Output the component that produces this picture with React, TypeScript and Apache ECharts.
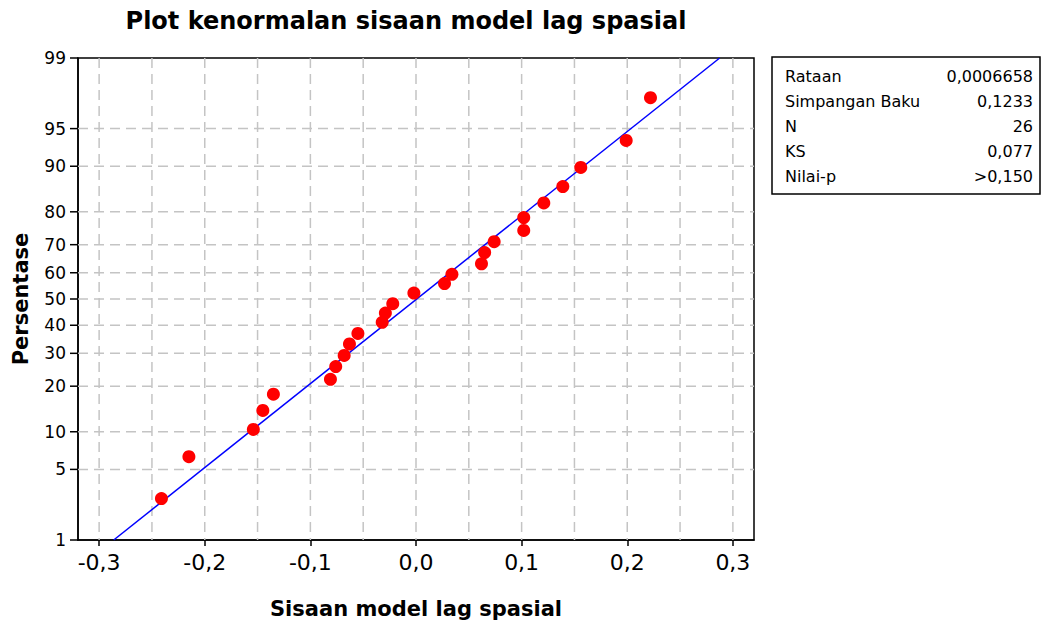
import React, { useEffect, useRef } from "react";
import * as echarts from "echarts";

// ---- data ----
const residuals = [
  -0.241, -0.215, -0.154, -0.145, -0.135, -0.081, -0.076, -0.068, -0.063, -0.055,
  -0.032, -0.029, -0.022, -0.002, 0.027, 0.034, 0.062, 0.065, 0.074, 0.102,
  0.102, 0.121, 0.139, 0.156, 0.199, 0.222,
];
const percents = [
  2.7, 6.4, 10.4, 14.1, 17.9, 21.9, 25.7, 29.3, 33.2, 37.0,
  41.1, 44.6, 48.2, 52.3, 55.9, 59.4, 63.3, 67.3, 71.0, 74.6,
  78.4, 82.3, 86.1, 89.8, 93.7, 97.4,
];
const percentTicks = [1, 5, 10, 20, 30, 40, 50, 60, 70, 80, 90, 95, 99];
const xTicks = [-0.3, -0.2, -0.1, 0, 0.1, 0.2, 0.3];
const xGridValues = [-0.3, -0.25, -0.2, -0.15, -0.1, -0.05, 0, 0.05, 0.1, 0.15, 0.2, 0.25, 0.3];
const fitMean = 0.0006658;
const fitSd = 0.1233;
const fitLinePercents = [1, 99];
const statLabels = ["Rataan", "Simpangan Baku", "N", "KS", "Nilai-p"];
const statValues = ["0,0006658", "0,1233", "26", "0,077", ">0,150"];

const titleText = "Plot kenormalan sisaan model lag spasial";
const xName = "Sisaan model lag spasial";
const yName = "Persentase";

// inverse standard normal CDF (Acklam) – the probability-scale transform
function probit(p: number): number {
  const a = [-39.69683028665376, 220.9460984245205, -275.9285104469687, 138.357751867269, -30.66479806614716, 2.506628277459239];
  const b = [-54.47609879822406, 161.5858368580409, -155.6989798598866, 66.80131188771972, -13.28068155288572];
  const c = [-0.007784894002430293, -0.3223964580411365, -2.400758277161838, -2.549732539343734, 4.374664141464968, 2.938163982698783];
  const d = [0.007784695709041462, 0.3224671290700398, 2.445134137142996, 3.754408661907416];
  const pl = 0.02425;
  let q: number, r: number;
  if (p < pl) {
    q = Math.sqrt(-2 * Math.log(p));
    return (((((c[0] * q + c[1]) * q + c[2]) * q + c[3]) * q + c[4]) * q + c[5]) / ((((d[0] * q + d[1]) * q + d[2]) * q + d[3]) * q + 1);
  }
  if (p > 1 - pl) {
    q = Math.sqrt(-2 * Math.log(1 - p));
    return -(((((c[0] * q + c[1]) * q + c[2]) * q + c[3]) * q + c[4]) * q + c[5]) / ((((d[0] * q + d[1]) * q + d[2]) * q + d[3]) * q + 1);
  }
  q = p - 0.5;
  r = q * q;
  return (((((a[0] * r + a[1]) * r + a[2]) * r + a[3]) * r + a[4]) * r + a[5]) * q / (((((b[0] * r + b[1]) * r + b[2]) * r + b[3]) * r + b[4]) * r + 1);
}

const FONT = "DejaVu Sans";
const X_MIN = -0.32;
const X_MAX = 0.32;
const Y_MIN = probit(0.01);
const Y_MAX = probit(0.99);
const GRID_COLOR = "#c4c4c4";

const fmt = (v: number) => v.toFixed(1).replace(".", ",");

export default function App() {
  const ref = useRef<HTMLDivElement>(null);

  useEffect(() => {
    if (!ref.current) return;
    const chart = echarts.init(ref.current, null, { renderer: "svg" });

    const points = residuals.map((x, i) => [x, probit(percents[i] / 100)]);
    const fitLine = fitLinePercents.map((p) => {
      const z = probit(p / 100);
      return [fitMean + fitSd * z, z];
    });

    const tableX = 772;
    const tableY = 57;
    const tableW = 268;
    const tableH = 137;
    const rowY0 = 76;
    const rowStep = 25;

    const graphic: any[] = [
      {
        type: "text",
        x: 406,
        y: 21,
        style: {
          text: titleText,
          align: "center",
          verticalAlign: "middle",
          font: `bold 24px "${FONT}"`,
          fill: "#000",
        },
      },
      {
        type: "rect",
        shape: { x: tableX, y: tableY, width: tableW, height: tableH },
        style: { fill: "#fff", stroke: "#000", lineWidth: 1.5 },
      },
    ];
    statLabels.forEach((lab, i) => {
      graphic.push({
        type: "text",
        x: 785,
        y: rowY0 + i * rowStep,
        style: { text: lab, align: "left", verticalAlign: "middle", font: `16px "${FONT}"`, fill: "#000" },
      });
      graphic.push({
        type: "text",
        x: 1033,
        y: rowY0 + i * rowStep,
        style: { text: statValues[i], align: "right", verticalAlign: "middle", font: `16px "${FONT}"`, fill: "#000" },
      });
    });

    const option: any = {
      animation: false,
      backgroundColor: "#fff",
      textStyle: { fontFamily: FONT },
      graphic,
      grid: {
        left: 78,
        top: 58,
        right: 1046 - 754,
        bottom: 627 - 540,
        show: true,
        borderColor: "#000",
        borderWidth: 1.5,
        backgroundColor: "transparent",
      },
      xAxis: {
        type: "value",
        min: X_MIN,
        max: X_MAX,
        name: xName,
        nameLocation: "middle",
        nameGap: 58,
        nameTextStyle: { fontSize: 21, fontWeight: "bold", color: "#000", fontFamily: FONT },
        axisLine: { show: true, onZero: false, lineStyle: { color: "#000", width: 1.5 } },
        axisTick: { show: true, length: 6, customValues: xTicks, lineStyle: { color: "#000", width: 1.5 } },
        axisLabel: {
          customValues: xTicks,
          formatter: (v: number) => fmt(v),
          fontSize: 22,
          color: "#000",
          margin: 11,
          fontFamily: FONT,
        },
        splitLine: { show: false },
      },
      yAxis: {
        type: "value",
        min: Y_MIN,
        max: Y_MAX,
        name: yName,
        nameLocation: "middle",
        nameGap: 47,
        nameTextStyle: { fontSize: 21, fontWeight: "bold", color: "#000", fontFamily: FONT },
        axisLine: { show: true, onZero: false, lineStyle: { color: "#000", width: 1.5 } },
        axisTick: { show: false },
        axisLabel: { show: false },
        splitLine: { show: false },
      },
      series: [
        {
          type: "custom",
          name: "vgrid",
          silent: true,
          z: 1,
          data: xGridValues.map((x) => [x, Y_MIN]),
          renderItem: (params: any, api: any) => {
            const cs = params.coordSys;
            const p = api.coord([api.value(0), api.value(1)]);
            return {
              type: "line",
              shape: { x1: p[0], y1: cs.y, x2: p[0], y2: cs.y + cs.height },
              style: { stroke: GRID_COLOR, lineWidth: 1.5, lineDash: [10, 6] },
            };
          },
        },
        {
          type: "custom",
          name: "hgrid",
          silent: true,
          z: 1,
          data: percentTicks.map((p) => [X_MIN, probit(p / 100)]),
          renderItem: (params: any, api: any) => {
            const cs = params.coordSys;
            const p = api.coord([api.value(0), api.value(1)]);
            const y = p[1];
            const isEdge = params.dataIndex === 0 || params.dataIndex === percentTicks.length - 1;
            const children: any[] = [];
            if (!isEdge) {
              children.push({
                type: "line",
                shape: { x1: cs.x, y1: y, x2: cs.x + cs.width, y2: y },
                style: { stroke: GRID_COLOR, lineWidth: 1.5, lineDash: [10, 6] },
              });
            }
            children.push({
              type: "line",
              shape: { x1: cs.x - 8, y1: y, x2: cs.x, y2: y },
              style: { stroke: "#000", lineWidth: 1.5 },
            });
            children.push({
              type: "text",
              x: cs.x - 12,
              y: y,
              style: {
                text: String(percentTicks[params.dataIndex]),
                align: "right",
                verticalAlign: "middle",
                font: `17px "${FONT}"`,
                fill: "#000",
              },
            });
            return { type: "group", children };
          },
        },
        {
          type: "line",
          name: "fit",
          data: fitLine,
          showSymbol: false,
          symbol: "none",
          z: 3,
          lineStyle: { color: "#0000ff", width: 1.5 },
        },
        {
          type: "scatter",
          name: "residu",
          data: points,
          symbol: "circle",
          symbolSize: 13,
          z: 4,
          itemStyle: { color: "#ff0000", opacity: 1 },
        },
      ],
    };

    chart.setOption(option);
    return () => {
      chart.dispose();
    };
  }, []);

  return (
    <div
      ref={ref}
      style={{ position: "fixed", left: 0, top: 0, width: 1046, height: 627, background: "#fff" }}
    />
  );
}
